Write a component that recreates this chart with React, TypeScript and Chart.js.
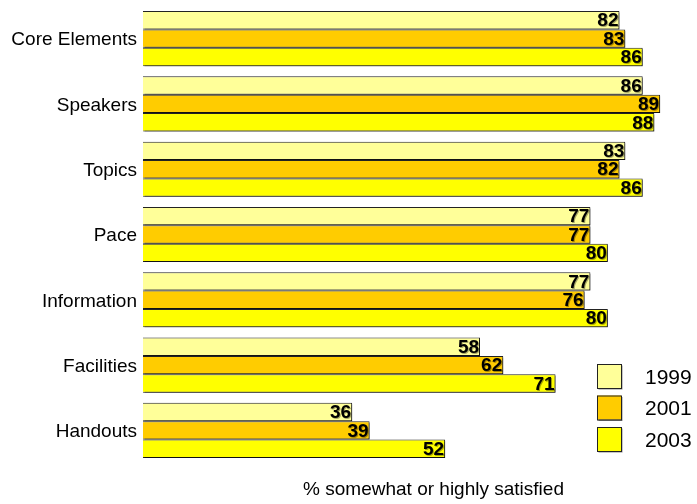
import React, { useEffect, useRef } from "react";
import { Chart, registerables } from "chart.js";

Chart.register(...registerables);

const categories = ["Core Elements", "Speakers", "Topics", "Pace", "Information", "Facilities", "Handouts"];
const years = ["1999", "2001", "2003"];
const values1999 = [82, 86, 83, 77, 77, 58, 36];
const values2001 = [83, 89, 82, 77, 76, 62, 39];
const values2003 = [86, 88, 86, 80, 80, 71, 52];
const colors = ["#FFFF99", "#FFCC00", "#FFFF00"];
const axisTitle = "% somewhat or highly satisfied";

const FONT = "'Liberation Sans', Arial, sans-serif";

const barShadow = {
  id: "barShadow",
  beforeDatasetsDraw(chart: any) {
    const ctx = chart.ctx;
    ctx.save();
    ctx.shadowColor = "rgba(0,0,0,0.45)";
    ctx.shadowOffsetX = 1.5;
    ctx.shadowOffsetY = 1.5;
    ctx.shadowBlur = 0;
  },
  afterDatasetsDraw(chart: any) {
    chart.ctx.restore();
  },
};

const valueLabels = {
  id: "valueLabels",
  afterDatasetsDraw(chart: any) {
    const ctx = chart.ctx;
    ctx.save();
    ctx.font = `bold 19px ${FONT}`;
    ctx.textAlign = "right";
    ctx.textBaseline = "middle";
    chart.data.datasets.forEach((ds: any, di: number) => {
      const meta = chart.getDatasetMeta(di);
      meta.data.forEach((bar: any, i: number) => {
        const txt = String(ds.data[i]);
        const x = bar.x - 1;
        const y = bar.y + 1;
        ctx.fillStyle = "rgba(0,0,0,0.35)";
        ctx.fillText(txt, x + 1, y + 1);
        ctx.fillStyle = "#000";
        ctx.fillText(txt, x, y);
      });
    });
    ctx.restore();
  },
};

const extras = {
  id: "extras",
  afterDraw(chart: any) {
    const ctx = chart.ctx;
    const xs = chart.scales.x;
    ctx.save();
    // axis title centred on the middle of the 0-100 range
    ctx.font = `19px ${FONT}`;
    ctx.fillStyle = "#000";
    ctx.textAlign = "center";
    ctx.textBaseline = "middle";
    ctx.fillText(axisTitle, xs.getPixelForValue(50), 490);
    // legend
    chart.data.datasets.forEach((ds: any, i: number) => {
      const bx = 597;
      const by = 364 + i * 31.5;
      ctx.save();
      ctx.shadowColor = "rgba(0,0,0,0.45)";
      ctx.shadowOffsetX = 1.5;
      ctx.shadowOffsetY = 1.5;
      ctx.fillStyle = ds.backgroundColor;
      ctx.fillRect(bx, by, 24, 24);
      ctx.restore();
      ctx.strokeStyle = "#222";
      ctx.lineWidth = 1;
      ctx.strokeRect(bx + 0.5, by + 0.5, 24, 24);
      ctx.fillStyle = "#000";
      ctx.textAlign = "left";
      ctx.font = `21px ${FONT}`;
      ctx.fillText(ds.label, 645, by + 14);
    });
    ctx.restore();
  },
};

export default function App() {
  const ref = useRef<HTMLCanvasElement | null>(null);
  useEffect(() => {
    if (!ref.current) return;
    const data = [values1999, values2001, values2003];
    const chart = new Chart(ref.current, {
      type: "bar",
      data: {
        labels: categories,
        datasets: years.map((y, i) => ({
          label: y,
          data: data[i],
          backgroundColor: colors[i],
          borderColor: "#222",
          borderWidth: 1,
          categoryPercentage: 0.845,
          barPercentage: 1.0,
        })),
      },
      options: {
        indexAxis: "y",
        animation: false,
        responsive: false,
        maintainAspectRatio: false,
        layout: { padding: { left: 0, right: 2, top: 6, bottom: 41 } },
        plugins: { legend: { display: false }, tooltip: { enabled: false } },
        scales: {
          x: { display: false, min: 0, max: 95 },
          y: {
            grid: { display: false, drawTicks: false },
            border: { display: false },
            ticks: { color: "#000", font: { family: FONT, size: 19 }, padding: 6, labelOffset: 1.5 },
            afterFit(scale: any) {
              scale.width = 143;
              scale.paddingTop = 0;
              scale.paddingBottom = 0;
            },
          },
        },
      },
      plugins: [barShadow, valueLabels, extras],
    });
    return () => chart.destroy();
  }, []);
  return (
    <div style={{ position: "absolute", left: 0, top: 0, width: 697, height: 504, background: "#fff" }}>
      <canvas ref={ref} width={697} height={504} style={{ display: "block" }} />
    </div>
  );
}
